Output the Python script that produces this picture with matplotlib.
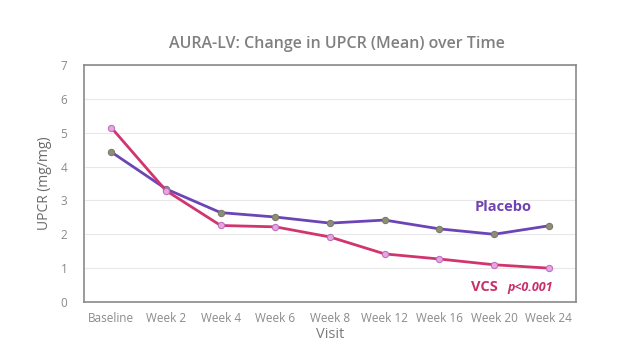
import matplotlib
matplotlib.use("Agg")
import matplotlib.pyplot as plt

visits = ["Baseline", "Week 2", "Week 4", "Week 6", "Week 8", "Week 12", "Week 16", "Week 20", "Week 24"]
placebo = [4.43, 3.34, 2.64, 2.51, 2.33, 2.42, 2.16, 2.00, 2.25]
vcs = [5.15, 3.29, 2.26, 2.22, 1.92, 1.42, 1.27, 1.10, 1.00]
yticks = [0, 1, 2, 3, 4, 5, 6, 7]

plt.rcParams['font.family'] = ['Open Sans', 'DejaVu Sans']

fig = plt.figure(figsize=(6.4, 3.54), dpi=100)
ax = fig.add_axes([84/640, 1-302/354, (576-84)/640, (302-65)/354])

x = list(range(len(visits)))
ax.plot(x, placebo, color="#6b45b5", lw=2, marker="o", ms=4.5,
        mfc="#8e8e78", mec="#7a7a6a", mew=0.8, zorder=3)
ax.plot(x, vcs, color="#d1356e", lw=2, marker="o", ms=4.5,
        mfc="#e6a6e0", mec="#c070c0", mew=0.8, zorder=3)

ax.set_xlim(-0.5, len(visits) - 0.5)
ax.set_ylim(0, 7)
ax.set_yticks(yticks)
ax.set_xticks(x)
ax.set_xticklabels(visits)
ax.yaxis.grid(True, color="#e8e8e8", lw=0.8)
ax.set_axisbelow(True)
ax.tick_params(axis="both", length=0, colors="#8a8a8a", labelsize=8.5)
ax.tick_params(axis="x", pad=7)
ax.tick_params(axis="y", pad=12)
for s in ax.spines.values():
    s.set_color("#8a8a8a")
    s.set_linewidth(1.2)

ax.set_xlabel("Visit", color="#7a7a7a", fontsize=10.5, labelpad=2)
ax.set_ylabel("UPCR (mg/mg)", color="#6a6a6a", fontsize=10, labelpad=6)

fig.text(337/640, 1-44/354, "AURA-LV: Change in UPCR (Mean) over Time",
         ha="center", va="center", color="#808080", fontsize=11.5,
         fontweight="semibold")

ax.text(7.16, 2.8, "Placebo", color="#7044b0", fontsize=10.5,
        fontweight="bold", ha="center", va="center")
ax.text(6.83, 0.44, "VCS", color="#c8306a", fontsize=10.5,
        fontweight="bold", ha="center", va="center")
ax.text(7.66, 0.44, "p<0.001", color="#c8306a", fontsize=9,
        fontweight="bold", style="italic", ha="center", va="center")

fig.savefig("out.png", dpi=100)
